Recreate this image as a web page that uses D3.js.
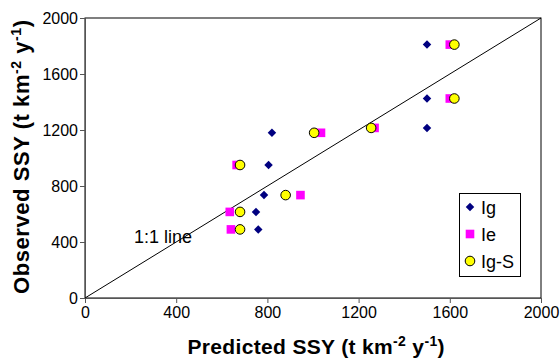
<!DOCTYPE html>
<html>
<head>
<meta charset="utf-8">
<script src="https://cdn.jsdelivr.net/npm/d3@7"></script>
<style>
  body { margin: 0; background: #fff; }
  svg { font-family: "Liberation Sans", Arial, sans-serif; }
</style>
</head>
<body>
<svg id="chart" width="560" height="358"></svg>
<script>
// data
var igPred = [820, 1500, 1500, 1500, 805, 785, 750, 760];
var igObs = [1180, 1810, 1425, 1215, 950, 735, 615, 490];
var iePred = [1600, 1600, 1035, 1270, 945, 635, 640, 665];
var ieObs = [1810, 1425, 1180, 1215, 735, 615, 490, 950];
var igsPred = [1620, 1620, 1005, 1255, 880, 680, 680, 680];
var igsObs = [1810, 1425, 1180, 1215, 735, 615, 490, 950];
var tickValues = [0, 400, 800, 1200, 1600, 2000];
var seriesNames = ["Ig", "Ie", "Ig-S"];

var svg = d3.select("#chart");
var plotLeft = 85, plotRight = 541, plotTop = 18, plotBottom = 298;

var x = d3.scaleLinear().domain([0, 2000]).range([plotLeft, plotRight]);
var y = d3.scaleLinear().domain([0, 2000]).range([plotBottom, plotTop]);

// plot frame
svg.append("rect")
    .attr("x", plotLeft).attr("y", plotTop)
    .attr("width", plotRight - plotLeft).attr("height", plotBottom - plotTop)
    .attr("fill", "none").attr("stroke", "#000").attr("stroke-width", 1);

// axes
var xAxis = svg.append("g")
    .attr("transform", "translate(0," + plotBottom + ")")
    .call(d3.axisBottom(x).tickValues(tickValues).tickSize(5).tickPadding(4).tickFormat(d3.format("d")));
var yAxis = svg.append("g")
    .attr("transform", "translate(" + plotLeft + ",0)")
    .call(d3.axisLeft(y).tickValues(tickValues).tickSize(5).tickPadding(2).tickFormat(d3.format("d")));
[xAxis, yAxis].forEach(function (a) {
    a.select(".domain").attr("stroke", "#555");
    a.selectAll(".tick line").attr("stroke", "#555");
    a.selectAll("text").attr("font-size", 16).attr("fill", "#000")
        .attr("font-family", "Liberation Sans, Arial, sans-serif");
});

// 1:1 line
svg.append("line")
    .attr("x1", x(0)).attr("y1", y(0))
    .attr("x2", x(2000)).attr("y2", y(2000))
    .attr("stroke", "#000").attr("stroke-width", 1);
svg.append("text").attr("x", 134).attr("y", 243)
    .attr("font-size", 18).text("1:1 line");

// markers
var diamond = d3.symbol().type(d3.symbolDiamond2).size(46);
function drawIg(g, px, py) {
    g.append("path").attr("d", diamond)
        .attr("transform", "translate(" + px + "," + py + ")")
        .attr("fill", "#000080");
}
function drawIe(g, px, py) {
    g.append("rect").attr("x", px - 4.3).attr("y", py - 4.3)
        .attr("width", 8.6).attr("height", 8.6).attr("fill", "#ff00ff");
}
function drawIgs(g, px, py) {
    g.append("circle").attr("cx", px).attr("cy", py).attr("r", 4.8)
        .attr("fill", "#ffff00").attr("stroke", "#000").attr("stroke-width", 1);
}

var marks = svg.append("g");
igPred.forEach(function (d, i) { drawIg(marks, x(d), y(igObs[i])); });
iePred.forEach(function (d, i) { drawIe(marks, x(d), y(ieObs[i])); });
igsPred.forEach(function (d, i) { drawIgs(marks, x(d), y(igsObs[i])); });

// legend
var legend = svg.append("g");
legend.append("rect").attr("x", 459.5).attr("y", 193.5)
    .attr("width", 61).attr("height", 83)
    .attr("fill", "#fff").attr("stroke", "#000");
var drawers = [drawIg, drawIe, drawIgs];
seriesNames.forEach(function (name, i) {
    var ly = 207 + i * 27;
    drawers[i](legend, 470, ly);
    legend.append("text").attr("x", 481).attr("y", ly + 6.5)
        .attr("font-size", 18).text(name);
});

// axis titles
var unit = ' (t km<tspan dy="-8" font-size="14">-2</tspan><tspan dy="8"> y</tspan><tspan dy="-8" font-size="14">-1</tspan><tspan dy="8">)</tspan>';
svg.append("text").attr("x", 316).attr("y", 354)
    .attr("text-anchor", "middle").attr("font-size", 21).attr("font-weight", "bold")
    .attr("textLength", 257).attr("lengthAdjust", "spacing")
    .html('Predicted SSY' + unit);
svg.append("text")
    .attr("transform", "translate(29,157) rotate(-90)")
    .attr("text-anchor", "middle").attr("font-size", 22).attr("font-weight", "bold")
    .attr("textLength", 274).attr("lengthAdjust", "spacing")
    .html('Observed SSY' + unit);
</script>
</body>
</html>
